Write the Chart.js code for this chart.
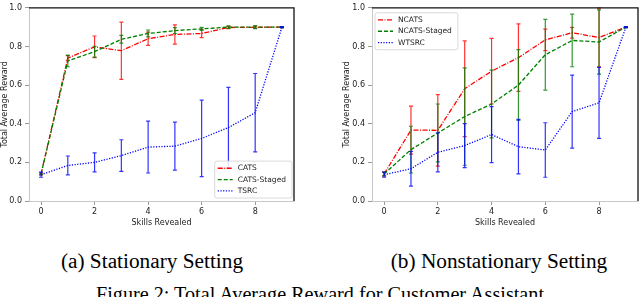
<!DOCTYPE html>
<html>
<head>
<meta charset="utf-8">
<script src="https://cdn.jsdelivr.net/npm/chart.js@4"></script>
<style>
  html, body { margin: 0; padding: 0; background: #fff; }
  body { width: 640px; height: 297px; position: relative; overflow: hidden; font-family: "Liberation Serif", "DejaVu Serif", serif; }
  .panel { position: absolute; top: 0; width: 320px; height: 232px; }
  .cap { position: absolute; font-size: 21.3px; line-height: 1; white-space: nowrap; transform: translateX(-50%); color: #000; }
  .fig { font-size: 20.2px; }
</style>
</head>
<body>
<div class="panel" style="left:0"><canvas id="chartA"></canvas></div>
<div class="panel" style="left:320px"><canvas id="chartB"></canvas></div>
<div class="cap" style="left:152px;top:251px">(a) Stationary Setting</div>
<div class="cap" style="left:499px;top:251px">(b) Nonstationary Setting</div>
<div class="cap fig" style="left:320px;top:284px">Figure 2: Total Average Reward for Customer Assistant</div>

<script>
// valores (média e meia-barra de erro)
const skills = [0, 1, 2, 3, 4, 5, 6, 7, 8, 9];
const xTicks = [0, 2, 4, 6, 8];
const yTicks = [0, 0.2, 0.4, 0.6, 0.8, 1.0];

// (a) estacionário
const catsMean   = [0.140, 0.740, 0.798, 0.778, 0.840, 0.862, 0.867, 0.898, 0.899, 0.900];
const catsErr    = [0.005, 0.012, 0.056, 0.148, 0.034, 0.050, 0.021, 0.006, 0.006, 0.003];
const stagedMean = [0.140, 0.725, 0.773, 0.837, 0.867, 0.882, 0.891, 0.900, 0.900, 0.900];
const stagedErr  = [0.005, 0.030, 0.028, 0.020, 0.018, 0.015, 0.008, 0.006, 0.008, 0.003];
const tsrcMean   = [0.136, 0.184, 0.200, 0.235, 0.279, 0.284, 0.324, 0.380, 0.457, 0.900];
const tsrcErr    = [0.013, 0.049, 0.049, 0.082, 0.134, 0.124, 0.198, 0.208, 0.203, 0.003];

// (b) não estacionário
const ncatsMean   = [0.140, 0.367, 0.366, 0.581, 0.672, 0.742, 0.834, 0.871, 0.846, 0.900];
const ncatsErr    = [0.010, 0.124, 0.185, 0.248, 0.170, 0.175, 0.056, 0.028, 0.152, 0.003];
const nstagedMean = [0.140, 0.266, 0.352, 0.437, 0.502, 0.600, 0.757, 0.831, 0.823, 0.900];
const nstagedErr  = [0.010, 0.121, 0.150, 0.252, 0.175, 0.183, 0.183, 0.136, 0.166, 0.003];
const wtsrcMean   = [0.136, 0.167, 0.252, 0.287, 0.344, 0.281, 0.264, 0.463, 0.508, 0.900];
const wtsrcErr    = [0.013, 0.090, 0.101, 0.114, 0.145, 0.141, 0.141, 0.189, 0.184, 0.003];

const RED = '#ff0000', GREEN = '#008000', BLUE = '#0000ff';
const tickFont = { family: 'DejaVu Sans', size: 8 };

// barras de erro desenhadas logo depois de cada linha (mesma ordem do matplotlib)
const errorBars = {
  id: 'errorBars',
  afterDatasetDraw(chart, args) {
    const ds = chart.data.datasets[args.index];
    if (!ds.err) return;
    const { x, y } = chart.scales;
    const ctx = chart.ctx;
    ctx.save();
    ctx.strokeStyle = ds.borderColor;
    ctx.globalAlpha = 0.8;
    ctx.lineWidth = 1.2;
    ctx.setLineDash([]);
    ds.data.forEach((p, i) => {
      const px = x.getPixelForValue(p.x);
      const top = y.getPixelForValue(p.y + ds.err[i]);
      const bot = y.getPixelForValue(p.y - ds.err[i]);
      ctx.beginPath();
      ctx.moveTo(px, top); ctx.lineTo(px, bot);
      ctx.moveTo(px - 2, top); ctx.lineTo(px + 2, top);
      ctx.moveTo(px - 2, bot); ctx.lineTo(px + 2, bot);
      ctx.stroke();
    });
    ctx.restore();
  }
};

// topo e direita do quadro em preto
const frame = {
  id: 'frame',
  afterDatasetsDraw(chart) {
    const { ctx, chartArea: a } = chart;
    ctx.save();
    ctx.strokeStyle = '#111';
    ctx.lineWidth = 1.3;
    ctx.beginPath();
    ctx.moveTo(a.left, a.top); ctx.lineTo(a.right, a.top); ctx.lineTo(a.right, a.bottom);
    ctx.stroke();
    ctx.restore();
  }
};

// legenda dentro da área do gráfico, estilo matplotlib
const boxLegend = {
  id: 'boxLegend',
  afterDraw(chart, args, opts) {
    const { ctx, chartArea: a } = chart;
    const sets = chart.data.datasets;
    ctx.save();
    ctx.font = '7.5px "DejaVu Sans"';
    const maxW = Math.max(...sets.map(d => ctx.measureText(d.label).width));
    const rowH = 11.3;
    const w = 3 + 15 + 5 + maxW + 6;
    const h = sets.length * rowH + 3;
    const bx = opts.corner === 'br' ? a.right - 2 - w : a.left + 3;
    const by = opts.corner === 'br' ? a.bottom - 3 - h : a.top + 5;
    ctx.fillStyle = 'rgba(255,255,255,0.85)';
    ctx.strokeStyle = '#d0d0d0';
    ctx.lineWidth = 0.8;
    ctx.beginPath();
    ctx.roundRect(bx, by, w, h, 2);
    ctx.fill(); ctx.stroke();
    sets.forEach((d, i) => {
      const ry = by + 1.5 + rowH * i + rowH / 2;
      ctx.strokeStyle = d.borderColor;
      ctx.lineWidth = 1.3;
      ctx.setLineDash(d.borderDash || []);
      ctx.beginPath();
      ctx.moveTo(bx + 3, ry); ctx.lineTo(bx + 18, ry);
      ctx.stroke();
      ctx.setLineDash([]);
      ctx.fillStyle = '#222';
      ctx.textBaseline = 'middle';
      ctx.fillText(d.label, bx + 23, ry);
    });
    ctx.restore();
  }
};

function series(label, means, errs, color, dash, order) {
  return {
    label,
    data: skills.map((x, i) => ({ x, y: means[i] })),
    err: errs,
    borderColor: color,
    borderDash: dash,
    borderWidth: 1.3,
    pointRadius: 0,
    fill: false,
    tension: 0,
    order
  };
}

function buildChart(id, datasets, corner, padLeft, yWidth, padRight) {
  return new Chart(document.getElementById(id), {
    type: 'line',
    data: { datasets },
    plugins: [errorBars, frame, boxLegend],
    options: {
      responsive: true,
      maintainAspectRatio: false,
      animation: false,
      layout: { padding: { left: padLeft, right: padRight, top: 3, bottom: 0 } },
      plugins: {
        legend: { display: false },
        tooltip: { enabled: false },
        boxLegend: { corner }
      },
      scales: {
        x: {
          type: 'linear',
          min: -0.45,
          max: 9.45,
          afterBuildTicks: (s) => { s.ticks = xTicks.map(v => ({ value: v })); },
          afterFit: (s) => { s.height = 31; },
          grid: { display: true, drawOnChartArea: false, drawTicks: true, tickLength: 4, color: '#999' },
          border: { display: true, color: '#c8c8c8', width: 1 },
          ticks: { color: '#222', font: tickFont, padding: 2, maxRotation: 0, callback: (v) => String(v) },
          title: { display: true, text: 'Skills Revealed', color: '#222', font: tickFont, padding: { top: 0, bottom: 4 } }
        },
        y: {
          min: 0,
          max: 1,
          afterBuildTicks: (s) => { s.ticks = yTicks.map(v => ({ value: v })); },
          afterFit: (s) => { s.width = yWidth; },
          grid: { display: true, drawOnChartArea: false, drawTicks: true, tickLength: 4, color: '#999' },
          border: { display: true, color: '#c8c8c8', width: 1 },
          ticks: { color: '#222', font: tickFont, padding: 3, callback: (v) => Number(v).toFixed(1) },
          title: { display: true, text: 'Total Average Reward', color: '#222', font: tickFont, padding: 0 }
        }
      }
    }
  });
}

buildChart('chartA', [
  series('CATS', catsMean, catsErr, RED, [5, 1.5, 1, 1.5], 3),
  series('CATS-Staged', stagedMean, stagedErr, GREEN, [4, 2], 2),
  series('TSRC', tsrcMean, tsrcErr, BLUE, [1.2, 1.5], 1)
], 'br', 0, 29, 26);

buildChart('chartB', [
  series('NCATS', ncatsMean, ncatsErr, RED, [5, 1.5, 1, 1.5], 3),
  series('NCATS-Staged', nstagedMean, nstagedErr, GREEN, [4, 2], 2),
  series('WTSRC', wtsrcMean, wtsrcErr, BLUE, [1.2, 1.5], 1)
], 'tl', 22, 30, 2);
</script>
</body>
</html>
